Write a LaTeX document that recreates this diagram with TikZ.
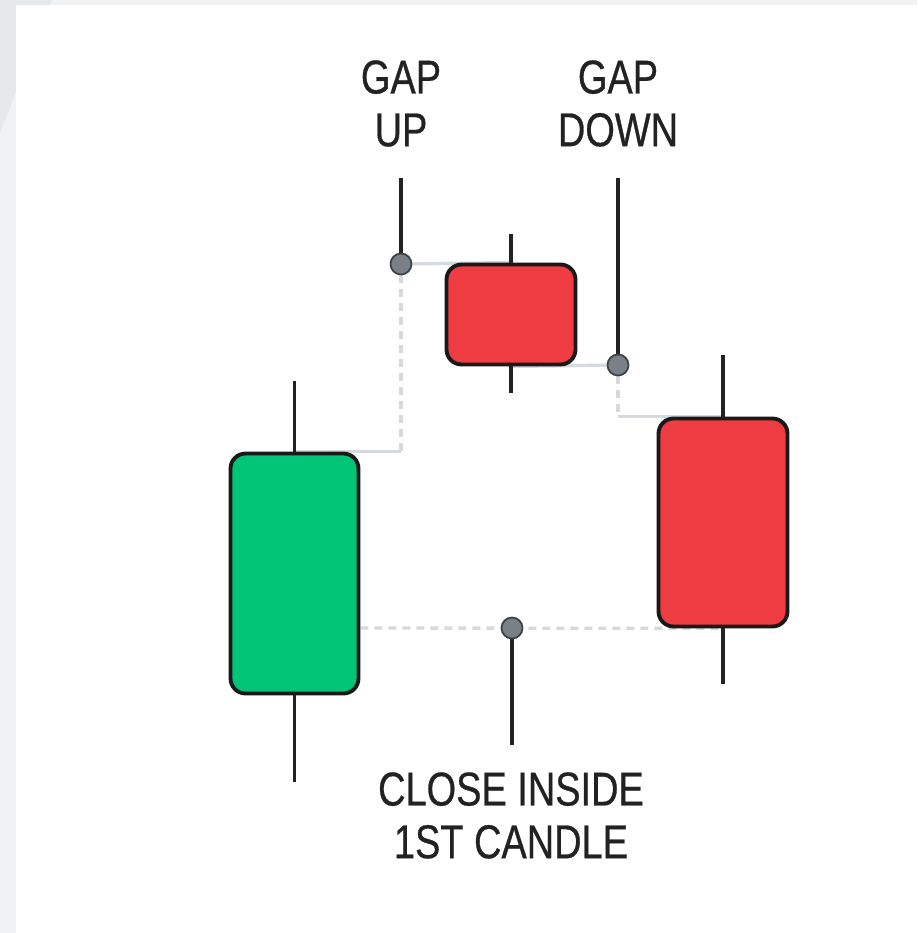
\documentclass[tikz,border=0pt]{standalone}
\usepackage{fontspec}
\usetikzlibrary{backgrounds}
\newfontfamily\lblfont{Liberation Sans}[FakeStretch=0.8, FakeBold=0.6]
\definecolor{bullgreen}{HTML}{00C476}
\definecolor{bearred}{HTML}{EF3C42}
\definecolor{guidegray}{HTML}{D6DADF}
\definecolor{pingray}{HTML}{7A8088}
\definecolor{pinedge}{HTML}{3D4248}
\definecolor{inkgray}{HTML}{222222}
\definecolor{outergray}{HTML}{F1F2F4}
\definecolor{shadegray}{HTML}{E6E9EC}
\begin{document}
\begin{tikzpicture}[x=0.02cm, y=-0.02cm,
    body/.style={draw=black!90, line width=2.2pt, rounded corners=0.3cm, inner sep=0pt},
    wick/.style={draw=inkgray, line width=1.8pt},
    guide/.style={draw=guidegray, line width=1.9pt},
    gapdash/.style={guide, dash pattern=on 0.16cm off 0.12cm},
    pin/.style={circle, fill=pingray, draw=pinedge, line width=1pt, inner sep=0pt, minimum size=0.42cm},
    leader/.style={draw=inkgray, line width=1.8pt},
    lbl/.style={font=\lblfont\fontsize{27}{30}\selectfont, text=inkgray, align=center, inner sep=0pt, anchor=north}]
    % candles
    \node [body, fill=bullgreen, minimum width=2.56cm, minimum height=4.8cm] (green) at (294.5,573.5) {};
    \node [body, fill=bearred, minimum width=2.58cm, minimum height=2.0cm] (small) at (511,314.5) {};
    \node [body, fill=bearred, minimum width=2.58cm, minimum height=4.16cm] (right) at (723,522.5) {};
    \draw [wick] (green.north) -- ++(0,-71); \draw [wick] (green.south) -- ++(0,87);
    \draw [wick] (small.north) -- ++(0,-29); \draw [wick] (small.south) -- ++(0,27);
    \draw [wick] (right.north) -- ++(0,-62); \draw [wick] (right.south) -- ++(0,56);

    % markers and labels
    \coordinate (upTip) at (401,178);
    \coordinate (downTip) at (618,178);
    \coordinate (closeTip) at (512,745);
    \draw [leader] (upTip) -- (401,264);
    \draw [leader] (downTip) -- (618,365);
    \draw [leader] (512,628) -- (closeTip);
    \node [pin] (upDot) at (401,264) {};
    \node [pin] (downDot) at (618,365) {};
    \node [pin] (closeDot) at (512,628) {};
    \node [lbl] (upLbl) at (401,60) {GAP\\UP};
    \node [lbl] (downLbl) at (618,60) {GAP\\DOWN};
    \node [lbl] (closeLbl) at (511,772) {CLOSE INSIDE\\1ST CANDLE};

    \begin{scope}[on background layer]
    % background panel
    \fill[outergray] (0,0) rectangle (917,933);
    \fill[shadegray] (0,0) -- (52,0) -- (0,133) -- cycle;
    \fill[white] (16,5) rectangle (917,933);
    % gap guides
    \draw [guide] (upDot) -- (small.north);
    \draw [gapdash] (upDot) -- (upDot |- green.north);
    \draw [guide] (upDot |- green.north) -- (green.north);
    \draw [guide] (downDot) -- (small.south);
    \draw [gapdash] (downDot) -- (downDot |- right.north);
    \draw [guide] (downDot |- right.north) -- (right.north);
    \draw [gapdash] (closeDot -| green.east) -- (right.south);
    \end{scope}
\end{tikzpicture}
\end{document}
